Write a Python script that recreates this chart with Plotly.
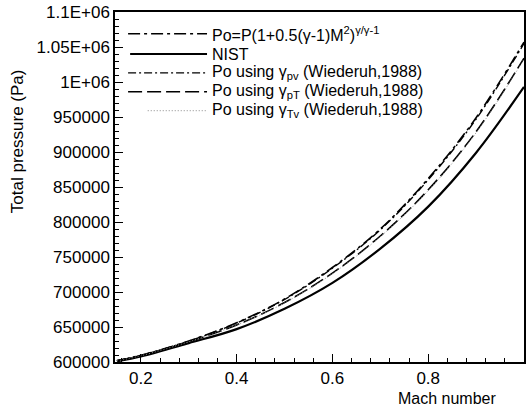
import plotly.graph_objects as go

# Mach number sample points
mach = [0.15, 0.2, 0.3, 0.4, 0.5, 0.6, 0.7, 0.8, 0.9, 1.0]

# Total pressure (Pa) for each method
po_formula = [602000, 609500, 630000, 656000, 690000, 735000, 790000, 862000, 949000, 1057000]
nist = [601000, 608000, 627000, 647000, 676000, 713000, 762000, 822000, 899000, 993000]
po_gamma_pv = [602000, 609400, 629800, 655500, 689300, 734000, 788800, 860300, 947000, 1055000]
po_gamma_pT = [601500, 609000, 629000, 653000, 685000, 727000, 780000, 846000, 929000, 1034000]
po_gamma_Tv = [601500, 608900, 628800, 652600, 684400, 726200, 779000, 844800, 927600, 1032500]

x_ticks = [0.2, 0.4, 0.6, 0.8, 1.0]
x_tick_text = ["0.2", "0.4", "0.6", "0.8", "1"]
y_ticks = [600000, 650000, 700000, 750000, 800000, 850000, 900000, 950000, 1000000, 1050000, 1100000]
y_tick_text = ["600000", "650000", "700000", "750000", "800000", "850000", "900000",
               "950000", "1E+06", "1.05E+06", "1.1E+06"]

legend_labels = [
    "Po=P(1+0.5(γ-1)M<sup>2</sup>)<sup>γ/γ-1</sup>",
    "NIST",
    "Po using γ<sub>pv</sub> (Wiederuh,1988)",
    "Po using γ<sub>pT</sub> (Wiederuh,1988)",
    "Po using γ<sub>Tv</sub> (Wiederuh,1988)",
]

FONT = "Liberation Sans, Arial, sans-serif"

series = [
    (po_formula, dict(color="black", width=1.6, dash="12px,4px,3px,4px")),
    (nist, dict(color="black", width=2.2, dash="solid")),
    (po_gamma_pv, dict(color="black", width=1.4, dash="8px,3px,2px,3px")),
    (po_gamma_pT, dict(color="black", width=1.6, dash="14px,5px")),
    (po_gamma_Tv, dict(color="#888888", width=1, dash="1px,2px")),
]

fig = go.Figure()
for vals, ln in series:
    fig.add_trace(go.Scatter(x=mach, y=vals, mode="lines", line=dict(shape="spline", **ln),
                             showlegend=False, hoverinfo="skip"))

# Legend drawn inside the plot area, top-left
legend_y = [0.938, 0.880, 0.826, 0.772, 0.718]
sample_x0 = [0.032, 0.037, 0.032, 0.032, 0.080]
for (vals, ln), label, ly, sx in zip(series, legend_labels, legend_y, sample_x0):
    fig.add_shape(type="line", xref="paper", yref="paper", x0=sx, x1=0.225, y0=ly, y1=ly,
                  line=dict(color=ln["color"], width=ln["width"], dash=ln["dash"]))
    fig.add_annotation(xref="paper", yref="paper", x=0.232, y=ly, text=label, showarrow=False,
                       xanchor="left", yanchor="middle", font=dict(family=FONT, size=16, color="black"))

fig.add_annotation(xref="paper", yref="paper", x=-0.238, y=0.63, text="Total pressure (Pa)",
                   textangle=-90, showarrow=False, xanchor="center", yanchor="middle",
                   font=dict(family=FONT, size=17, color="black"))
fig.add_annotation(xref="paper", yref="paper", x=0.937, y=-0.104, text="Mach number",
                   showarrow=False, xanchor="right", yanchor="middle",
                   font=dict(family=FONT, size=16, color="black"))

fig.update_xaxes(range=[0.146, 1.0], tickvals=x_ticks, ticktext=x_tick_text,
                 ticks="inside", ticklen=8, tickwidth=1, tickcolor="black",
                 minor=dict(ticks="inside", ticklen=4, dtick=0.04, tick0=0.2, tickcolor="black"),
                 showline=True, linecolor="black", linewidth=1.5, mirror=True,
                 showgrid=False, zeroline=False, ticklabelstandoff=0,
                 tickfont=dict(family=FONT, size=17, color="black"))
fig.update_yaxes(range=[600000, 1100000], tickvals=y_ticks, ticktext=y_tick_text,
                 ticks="inside", ticklen=8, tickwidth=1, tickcolor="black",
                 minor=dict(ticks="inside", ticklen=4, dtick=10000, tickcolor="black"),
                 showline=True, linecolor="black", linewidth=1.5, mirror=True,
                 showgrid=False, zeroline=False,
                 tickfont=dict(family=FONT, size=17, color="black"))

fig.update_layout(width=527, height=409, margin=dict(l=115, r=1, t=12, b=47),
                  plot_bgcolor="white", paper_bgcolor="white")

fig.write_html("out.html")
